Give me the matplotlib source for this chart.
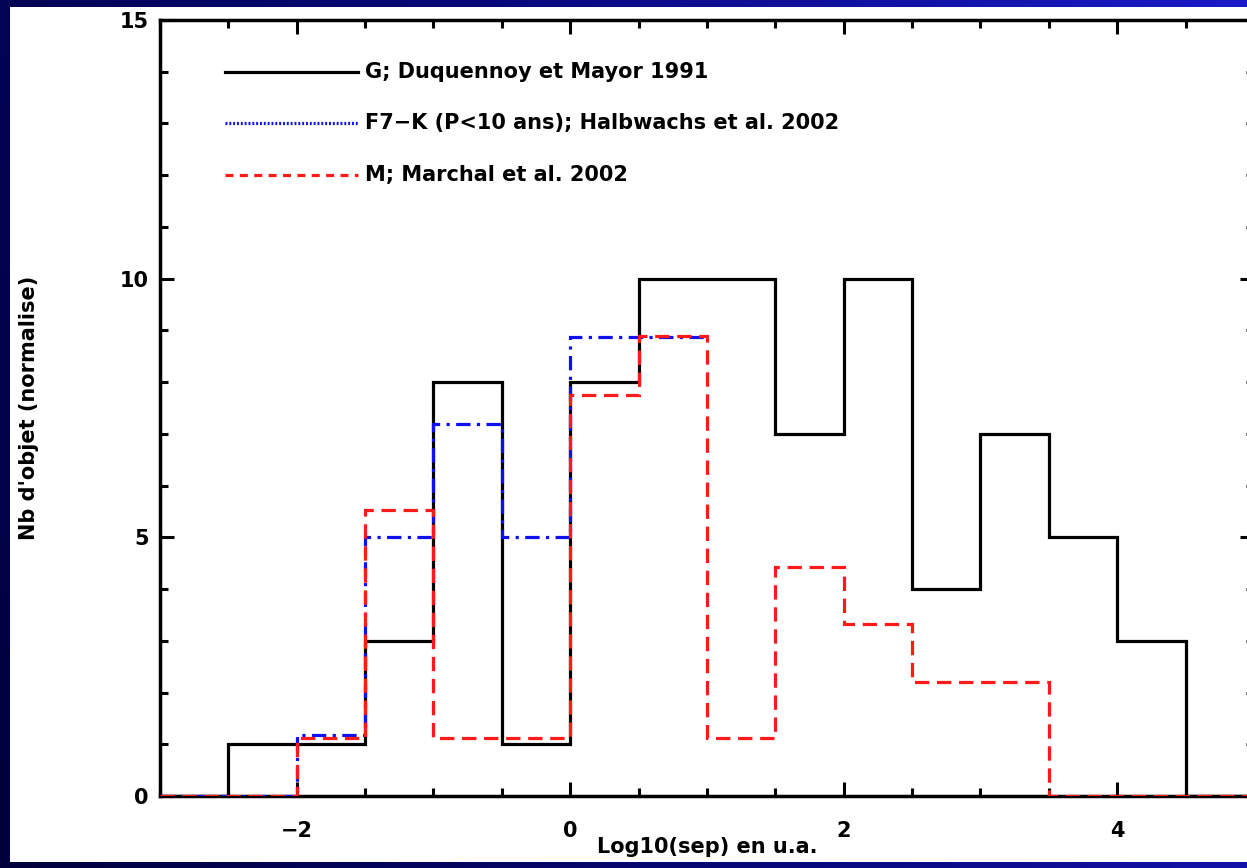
import numpy as np
import matplotlib.pyplot as plt
from matplotlib.patches import Rectangle
from matplotlib.ticker import MultipleLocator

# bords des classes en log10(sep)
bords = np.arange(-3.0, 5.01, 0.5)
bords_f7k = np.arange(-3.0, 1.01, 0.5)

# G ; Duquennoy et Mayor 1991
g_dm91 = [0, 1, 1, 3, 8, 1, 8, 10, 10, 7, 10, 4, 7, 5, 3, 0]
# F7-K (P<10 ans) ; Halbwachs et al. 2002
f7k_h02 = [0, 0, 1.17, 5.0, 7.2, 5.0, 8.87, 8.87]
# M ; Marchal et al. 2002
m_m02 = [0, 0, 1.12, 5.53, 1.12, 1.12, 7.75, 8.9, 1.12, 4.43, 3.32, 2.2, 2.2, 0, 0, 0]

noms = ["G; Duquennoy et Mayor 1991",
        "F7\u2212K (P<10 ans); Halbwachs et al. 2002",
        "M; Marchal et al. 2002"]

W, H = 1247, 868
fig = plt.figure(figsize=(W / 100, H / 100), dpi=100)

# fond bleu en degrade
bg = fig.add_axes([0, 0, 1, 1], zorder=-2)
grad = np.linspace(0, 1, 256)[None, :] * np.ones((16, 1))
grad = grad + 0.25 * np.linspace(1, 0, 16)[:, None]
bg.imshow(grad, aspect='auto', extent=[0, 1, 0, 1],
          cmap=plt.matplotlib.colors.LinearSegmentedColormap.from_list(
              'fond', ['#00003c', '#08087a', '#1a1ac8']))
bg.set_axis_off()
fig.patches.append(Rectangle((10 / W, 6 / H), 1 - 10 / W, 1 - 13 / H,
                             transform=fig.transFigure, facecolor='white',
                             edgecolor='none', zorder=-1))

ax = fig.add_axes([160 / W, 1 - 796 / H, 1094 / W, (796 - 20) / H])
ax.patch.set_alpha(0)

lw = 2.3
ax.stairs(g_dm91, bords, baseline=None, color='black', lw=lw, zorder=3)
ax.stairs(f7k_h02, bords_f7k, baseline=None, color='#1010ee', lw=lw,
          linestyle=(0, (4.5, 2, 1, 2)), zorder=4)
ax.stairs(m_m02, bords, baseline=None, color='#ff1a1a', lw=lw,
          linestyle=(0, (4.5, 2.4)), zorder=5)

ax.set_xlim(-3, 5)
ax.set_ylim(0, 15)
ax.xaxis.set_major_locator(MultipleLocator(2))
ax.xaxis.set_minor_locator(MultipleLocator(0.5))
ax.yaxis.set_major_locator(MultipleLocator(5))
ax.yaxis.set_minor_locator(MultipleLocator(1))
ax.tick_params(which='both', direction='in', top=True, right=True, width=2.2,
               labelsize=15)
ax.tick_params(which='major', length=10)
ax.tick_params(which='minor', length=6)
ax.tick_params(axis='x', pad=18)
ax.tick_params(axis='y', pad=8)
for sp in ax.spines.values():
    sp.set_linewidth(2.5)
for lab in ax.get_xticklabels() + ax.get_yticklabels():
    lab.set_fontweight('bold')
ax.set_xticklabels([str(int(v)).replace('-', '\u2212') for v in ax.get_xticks()])

ax.set_xlabel("Log10(sep) en u.a.", fontsize=15, fontweight='bold', labelpad=-3)
ax.set_ylabel("Nb d'objet (normalise)", fontsize=15, fontweight='bold', labelpad=58)

# legende tracee a la main
styles = [dict(color='black', linestyle='-'),
          dict(color='#1010ee', linestyle=(0, (0.6, 0.6))),
          dict(color='#ff1a1a', linestyle=(0, (2.5, 2)))]
for i, (nom, st) in enumerate(zip(noms, styles)):
    y = (14 - i) / 15
    ax.plot([0.0594, 0.181], [y, y], transform=ax.transAxes, lw=lw, **st)
    ax.text(0.187, y, nom, transform=ax.transAxes, va='center', ha='left',
            fontsize=15, fontweight='bold')

fig.savefig('out.png', dpi=100)
